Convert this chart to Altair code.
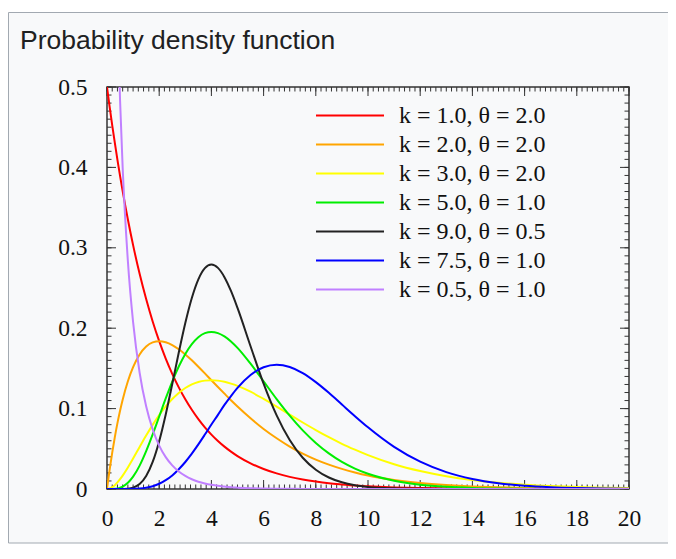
import altair as alt
import pandas as pd

TITLE = "Probability density function"

labels = [
    "k = 1.0, θ = 2.0",
    "k = 2.0, θ = 2.0",
    "k = 3.0, θ = 2.0",
    "k = 5.0, θ = 1.0",
    "k = 9.0, θ = 0.5",
    "k = 7.5, θ = 1.0",
    "k = 0.5, θ = 1.0",
]
colors = ["#ff0000", "#ffa500", "#ffff00", "#00ee00", "#222222", "#0000ff", "#c080ff"]

xs = [0, 0.05, 0.1, 0.2, 0.3, 0.4, 0.5, 0.6, 0.8,
      1.0, 1.25, 1.5, 1.75, 2.0, 2.25, 2.5, 2.75, 3.0, 3.25, 3.5, 3.75, 4.0, 4.25, 4.5, 4.75, 5.0,
      5.5, 6.0, 6.5, 7.0, 7.5, 8.0, 8.5, 9.0, 9.5,
      10, 11, 12, 13, 14, 15, 16, 17, 18, 19, 20]

k1_t2 = [0.5, 0.4877, 0.4756, 0.4524, 0.4304, 0.4094, 0.3894, 0.3704, 0.3352,
         0.3033, 0.2676, 0.2362, 0.2084, 0.1839, 0.1623, 0.1433, 0.1264, 0.1116, 0.0985, 0.0869, 0.0767, 0.0677, 0.0597, 0.0527, 0.0465, 0.0410,
         0.0320, 0.0249, 0.0194, 0.0151, 0.0118, 0.0092, 0.0071, 0.0056, 0.0043,
         0.0034, 0.0020, 0.0012, 0.0008, 0.0005, 0.0003, 0.0002, 0.0001, 0.0001, 0.0, 0.0]

k2_t2 = [0.0, 0.0122, 0.0238, 0.0452, 0.0646, 0.0819, 0.0974, 0.1111, 0.1341,
         0.1516, 0.1673, 0.1772, 0.1824, 0.1839, 0.1826, 0.1791, 0.1738, 0.1674, 0.1601, 0.1521, 0.1438, 0.1353, 0.1269, 0.1186, 0.1104, 0.1026,
         0.0880, 0.0747, 0.0631, 0.0528, 0.0441, 0.0366, 0.0303, 0.0250, 0.0206,
         0.0168, 0.0112, 0.0074, 0.0049, 0.0032, 0.0021, 0.0013, 0.0009, 0.0006, 0.0004, 0.0002]

k3_t2 = [0.0, 0.0002, 0.0006, 0.0023, 0.0048, 0.0082, 0.0122, 0.0167, 0.0268,
         0.0379, 0.0523, 0.0665, 0.0798, 0.0920, 0.1027, 0.1119, 0.1195, 0.1256, 0.1301, 0.1331, 0.1348, 0.1353, 0.1348, 0.1334, 0.1311, 0.1283,
         0.1210, 0.1120, 0.1025, 0.0924, 0.0827, 0.0733, 0.0644, 0.0562, 0.0489,
         0.0421, 0.0308, 0.0223, 0.0159, 0.0112, 0.0078, 0.0054, 0.0037, 0.0025, 0.0017, 0.0011]

k5_t1 = [0.0, 0.0, 0.0, 0.0001, 0.0003, 0.0007, 0.0016, 0.0030, 0.0077,
         0.0153, 0.0291, 0.0471, 0.0679, 0.0902, 0.1126, 0.1336, 0.1523, 0.1680, 0.1802, 0.1888, 0.1938, 0.1954, 0.1939, 0.1898, 0.1835, 0.1755,
         0.1558, 0.1339, 0.1118, 0.0912, 0.0729, 0.0573, 0.0443, 0.0337, 0.0254,
         0.0189, 0.0102, 0.0053, 0.0027, 0.0013, 0.0006, 0.0003, 0.0001, 0.0001, 0.0, 0.0]

k9_t05 = [0.0, 0.0, 0.0, 0.0, 0.0, 0.0, 0.0, 0.0001, 0.0004,
          0.0017, 0.0062, 0.0162, 0.0337, 0.0595, 0.0927, 0.1306, 0.1697, 0.2065, 0.2376, 0.2608, 0.2747, 0.2792, 0.2750, 0.2635, 0.2463, 0.2252,
          0.1776, 0.1310, 0.0915, 0.0609, 0.0389, 0.0240, 0.0143, 0.0083, 0.0047,
          0.0026, 0.0008, 0.0002, 0.0, 0.0, 0.0, 0.0, 0.0, 0.0, 0.0, 0.0]

k75_t1 = [0.0, 0.0, 0.0, 0.0, 0.0, 0.0, 0.0, 0.0, 0.0001,
          0.0002, 0.0007, 0.0017, 0.0035, 0.0065, 0.0110, 0.0169, 0.0246, 0.0336, 0.0440, 0.0555, 0.0677, 0.0802, 0.0922, 0.1046, 0.1156, 0.1258,
          0.1418, 0.1514, 0.1545, 0.1517, 0.1441, 0.1329, 0.1196, 0.1051, 0.0906,
          0.0767, 0.0524, 0.0340, 0.0210, 0.0125, 0.0072, 0.0040, 0.0022, 0.0012, 0.0006, 0.0003]

k05_t1 = [None, None, 1.614, 1.0328, 0.7631, 0.5980, 0.4839, 0.3997, 0.2834,
          0.2076, 0.1446, 0.1028, 0.0741, 0.0540, 0.0396, 0.0293, 0.0217, 0.0162, 0.0121, 0.0091, 0.0069, 0.0052, 0.0039, 0.0030, 0.0022, 0.0017,
          0.0010, 0.0006, 0.0003, 0.0002, 0.0001, 0.0001, 0.0, 0.0, 0.0,
          0.0, 0.0, 0.0, 0.0, 0.0, 0.0, 0.0, 0.0, 0.0, 0.0, 0.0]

series = [k1_t2, k2_t2, k3_t2, k5_t1, k9_t05, k75_t1, k05_t1]

x_major = [0, 2, 4, 6, 8, 10, 12, 14, 16, 18, 20]
x_minor = [round(0.2 * i, 1) for i in range(101)]
y_major = [0, 0.1, 0.2, 0.3, 0.4, 0.5]
y_minor = [round(0.01 * i, 2) for i in range(51)]

W, H = 522, 402
AX = "#333333"
SERIF = "Liberation Serif"

rows = []
for order, (lab, ys) in enumerate(zip(labels, series)):
    for x, y in zip(xs, ys):
        if y is not None:
            rows.append({"x": x, "y": y, "series": lab, "o": order})
df = pd.DataFrame(rows)

xscale = alt.Scale(domain=[0, 20], nice=False, zero=False)
yscale = alt.Scale(domain=[0, 0.5], nice=False, zero=False)

xaxis = alt.Axis(
    values=x_major, title=None, grid=False, ticks=False, tickSize=0, domain=False, zindex=2,
    format="~g", labelFont=SERIF, labelFontSize=23.5, labelColor="#111111", labelPadding=17,
    labelFlush=False, labelOverlap=False, labelBound=False)
yaxis = alt.Axis(
    values=y_major, title=None, grid=False, ticks=False, tickSize=0, domain=False, zindex=2,
    format="~g", labelFont=SERIF, labelFontSize=23.5, labelColor="#111111", labelPadding=20,
    labelFlush=False, labelOverlap=False, labelBound=False)

one = pd.DataFrame({"a": [0]})

# outer infobox frame (decoration)
bg = alt.Chart(one).mark_rect(fill="#f8f9fa", stroke="#a2a9b1", strokeWidth=1).encode(
    x=alt.value(-98.5), x2=alt.value(W + 80), y=alt.value(-74.5), y2=alt.value(H + 54)
)

# plot frame through the scales
frame = alt.Chart(one).mark_rect(filled=False, stroke=AX, strokeWidth=1.5).encode(
    x=alt.X(datum=0, scale=xscale, axis=xaxis),
    x2=alt.X2(datum=20),
    y=alt.Y(datum=0, scale=yscale, axis=yaxis),
    y2=alt.Y2(datum=0.5),
)


def ticks(vals, side, length):
    d = pd.DataFrame({"v": vals})
    base = alt.Chart(d).mark_rule(color=AX, strokeWidth=1)
    if side == "bottom":
        return base.encode(x=alt.X("v:Q", scale=xscale, axis=xaxis), y=alt.value(H), y2=alt.value(H - length))
    if side == "top":
        return base.encode(x=alt.X("v:Q", scale=xscale, axis=xaxis), y=alt.value(0), y2=alt.value(length))
    if side == "left":
        return base.encode(y=alt.Y("v:Q", scale=yscale, axis=yaxis), x=alt.value(0), x2=alt.value(length))
    return base.encode(y=alt.Y("v:Q", scale=yscale, axis=yaxis), x=alt.value(W), x2=alt.value(W - length))


tick_layers = []
for side in ["bottom", "top"]:
    tick_layers.append(ticks(x_minor, side, 4.5))
    tick_layers.append(ticks(x_major, side, 9))
for side in ["left", "right"]:
    tick_layers.append(ticks(y_minor, side, 4.5))
    tick_layers.append(ticks(y_major, side, 9))

lines = alt.Chart(df).mark_line(strokeWidth=2, clip=True, interpolate="monotone").encode(
    x=alt.X("x:Q", scale=xscale, axis=xaxis),
    y=alt.Y("y:Q", scale=yscale, axis=yaxis),
    color=alt.Color("series:N", scale=alt.Scale(domain=labels, range=colors), legend=alt.Legend(
        title=None, orient="none", legendX=208, legendY=14, symbolType="stroke",
        symbolSize=4624, symbolStrokeWidth=2, labelFont=SERIF, labelFontSize=24,
        labelColor="#111111", labelOffset=14, rowPadding=0, clipHeight=29, padding=0,
        labelLimit=400)),
    detail="o:N",
)

title = alt.Chart(pd.DataFrame({"t": [TITLE]})).mark_text(
    align="left", baseline="alphabetic", font="Liberation Sans", fontSize=26.5, color="#202122"
).encode(text="t:N", x=alt.value(-87), y=alt.value(-38))

chart = alt.layer(bg, frame, *tick_layers, lines, title).properties(
    width=W, height=H,
    padding={"left": 99, "top": 79, "right": 39, "bottom": 56},
    autosize=alt.AutoSizeParams(type="none"),
).configure_view(stroke="transparent").configure(background="white")

chart.save("out.html", embed_options={"renderer": "svg", "actions": False})
